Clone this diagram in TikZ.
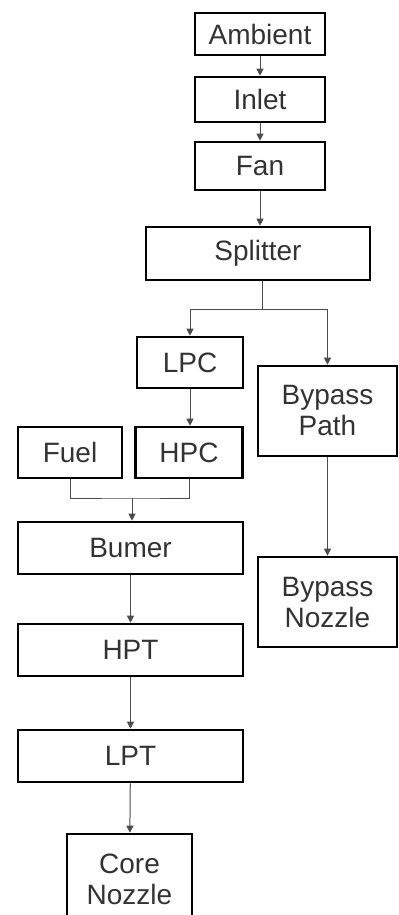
\documentclass[tikz,border=0pt]{standalone}
\usepackage{fontspec}
\setmainfont{Liberation Sans}
\usepackage{tikz}
\usetikzlibrary{arrows.meta,positioning,calc}
\tikzset{
  block/.style={draw=black, line width=1.3pt, align=center, inner sep=0pt,
                text=black!80, font=\fontsize{14}{15.5}\selectfont},
  arrow/.style={-{Triangle[length=3.5pt,width=3.5pt]}, line width=0.5pt, draw=black!70},
  link/.style={line width=0.5pt, draw=black!70}
}

\begin{document}
\begin{tikzpicture}[x=0.5pt, y=-0.5pt]
  \clip (0,0) rectangle (398,915);
  \node[block, minimum width=65pt, minimum height=21pt] (amb) at (260,34) {Ambient};
  \node[block, minimum width=65pt, minimum height=22.5pt] (inlet) at (260,99.5) {Inlet};
  \node[block, minimum width=65pt, minimum height=24pt] (fan) at (260,166) {Fan};
  \node[block, minimum width=112pt, minimum height=26.5pt] (split) at (258,253.5) {Splitter};

  \node[block, minimum width=53pt, minimum height=25.5pt] (lpc) at (190,362.5) {LPC};
  \node[block, minimum width=53.5pt, minimum height=25.5pt] (hpc) at (189,452.5) {HPC};
  \node[block, minimum width=52pt, minimum height=25.5pt] (fuel) at (70,452.5) {Fuel};
  \node[block, minimum width=112.5pt, minimum height=26pt] (burner) at (130.5,548) {Bumer};
  \node[block, minimum width=112.5pt, minimum height=26pt] (hpt) at (130.5,650) {HPT};
  \node[block, minimum width=112.5pt, minimum height=26pt] (lpt) at (130.5,756) {LPT};
  \node[block, minimum width=62.5pt, minimum height=45pt] (core) at (129.5,879) {Core\\Nozzle};

  \node[block, minimum width=69.5pt, minimum height=45pt] (bypath) at (327.5,411) {Bypass\\Path};
  \node[block, minimum width=69.5pt, minimum height=45pt] (bynoz) at (327.5,602) {Bypass\\Nozzle};

  \coordinate (sj) at (262,309);
  \coordinate (fj) at (132,498);

  \draw[arrow] (amb)--(inlet);
  \draw[arrow] (inlet)--(fan);
  \draw[arrow] (fan)--(fan|-split.north);
  \draw[link] (split.south-|sj)--(sj);
  \draw[arrow] (sj)-|(lpc.north);
  \draw[arrow] (sj)-|(bypath.north);
  \draw[arrow] (lpc)--(lpc|-hpc.north);
  \draw[link] (fuel.south)|-(fj)-|(hpc.south);
  \draw[arrow] (fj)--(fj|-burner.north);
  \draw[arrow] (burner)--(hpt);
  \draw[arrow] (hpt)--(lpt);
  \draw[arrow] (lpt)--(core);
  \draw[arrow] (bypath)--(bynoz);
\end{tikzpicture}
\end{document}
